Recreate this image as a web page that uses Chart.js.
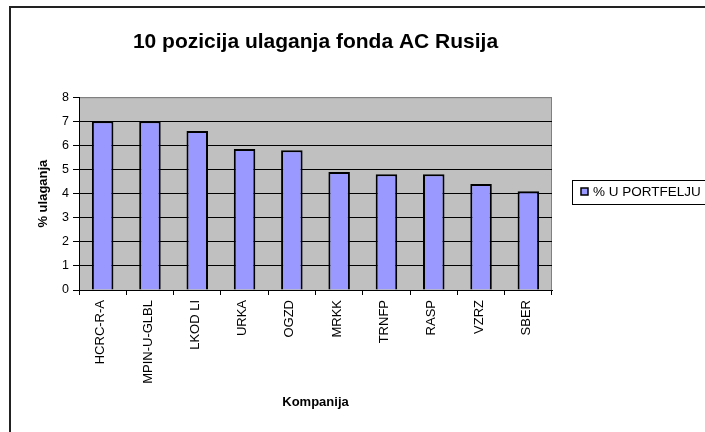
<!DOCTYPE html>
<html lang="hr">
<head>
<meta charset="utf-8">
<title>10 pozicija ulaganja fonda AC Rusija</title>
<script src="https://cdn.jsdelivr.net/npm/chart.js@4.4.0/dist/chart.umd.min.js"></script>
<style>
  html, body { margin: 0; padding: 0; background: #fff; }
  #chart { display: block; }
</style>
</head>
<body>
<canvas id="chart" width="705" height="432"></canvas>
<script>
// data
const companies = ['HCRC-R-A', 'MPIN-U-GLBL', 'LKOD LI', 'URKA', 'OGZD', 'MRKK', 'TRNFP', 'RASP', 'VZRZ', 'SBER'];
const shares = [7.0, 7.0, 6.6, 5.85, 5.8, 4.9, 4.8, 4.8, 4.4, 4.1];
const seriesName = '% U PORTFELJU';
const yTicks = [0, 1, 2, 3, 4, 5, 6, 7, 8];

const FONT = "'Liberation Sans', Arial, sans-serif";
Chart.defaults.font.family = FONT;
Chart.defaults.color = '#000';

// grey plot area + outer frame
const plotBg = {
    id: 'plotBg',
    beforeDraw(chart) {
        const ctx = chart.ctx, a = chart.chartArea;
        ctx.save();
        ctx.fillStyle = '#c0c0c0';
        ctx.fillRect(a.left, a.top, a.right - a.left, a.bottom - a.top);
        ctx.strokeStyle = '#808080';
        ctx.lineWidth = 1;
        ctx.beginPath();
        ctx.moveTo(a.left, a.top + 0.5);
        ctx.lineTo(a.right - 0.5, a.top + 0.5);
        ctx.lineTo(a.right - 0.5, a.bottom);
        ctx.stroke();
        // chart frame (only left and top are inside the picture)
        ctx.strokeStyle = '#222';
        ctx.lineWidth = 2;
        ctx.beginPath();
        ctx.moveTo(10, chart.height);
        ctx.lineTo(10, 7);
        ctx.lineTo(chart.width, 7);
        ctx.stroke();
        ctx.restore();
    }
};

// excel style legend box on the right
const boxLegend = {
    id: 'boxLegend',
    afterDraw(chart) {
        const ctx = chart.ctx;
        const ds = chart.data.datasets[0];
        ctx.save();
        ctx.strokeStyle = '#000';
        ctx.lineWidth = 1;
        ctx.strokeRect(572.5, 180.5, 200, 24);
        ctx.fillStyle = ds.backgroundColor;
        ctx.fillRect(581, 188, 7, 7);
        ctx.lineWidth = 1.5;
        ctx.strokeRect(581, 188, 7, 7);
        ctx.fillStyle = '#000';
        ctx.font = '13.5px ' + FONT;
        ctx.textBaseline = 'middle';
        ctx.fillText(ds.label, 593, 192.5);
        ctx.restore();
    }
};

new Chart(document.getElementById('chart'), {
    type: 'bar',
    data: {
        labels: companies,
        datasets: [{
            label: seriesName,
            data: shares,
            backgroundColor: '#9999ff',
            borderColor: '#000',
            borderWidth: 2,
            barPercentage: 0.455,
            categoryPercentage: 1
        }]
    },
    options: {
        responsive: false,
        animation: false,
        layout: { padding: { left: 10, right: 153, top: 0, bottom: 0 } },
        plugins: {
            legend: { display: false },
            tooltip: { enabled: false },
            title: {
                display: true,
                text: '10 pozicija ulaganja fonda AC Rusija',
                fullSize: false,
                color: '#000',
                font: { size: 21, weight: 'bold', family: FONT },
                padding: { top: 30, bottom: 42 }
            }
        },
        scales: {
            x: {
                afterFit(scale) { scale.height = 142; },
                grid: {
                    offset: true,
                    drawOnChartArea: false,
                    drawTicks: true,
                    tickLength: 5,
                    color: '#000'
                },
                border: { color: '#000', width: 1 },
                ticks: {
                    minRotation: 90,
                    maxRotation: 90,
                    autoSkip: false,
                    padding: 5,
                    labelOffset: -2,
                    color: '#000',
                    font: { size: 13 }
                },
                title: {
                    display: true,
                    text: 'Kompanija',
                    color: '#000',
                    font: { size: 13, weight: 'bold' },
                    padding: { top: 0, bottom: 22 }
                }
            },
            y: {
                min: 0,
                max: 8,
                afterFit(scale) { scale.width = 69; },
                afterBuildTicks(scale) { scale.ticks = yTicks.map(v => ({ value: v })); },
                grid: {
                    color: ctx => ctx.tick.value === 8 ? '#808080' : (ctx.tick.value === 0 ? 'rgba(0,0,0,0)' : '#000'),
                    tickColor: '#000',
                    tickLength: 6,
                    lineWidth: 1
                },
                border: { color: '#000', width: 1 },
                ticks: {
                    padding: 4,
                    color: '#000',
                    font: { size: 12.5 }
                },
                title: {
                    display: true,
                    text: '% ulaganja',
                    color: '#000',
                    font: { size: 13, weight: 'bold' },
                    padding: { top: 26, bottom: 0 }
                }
            }
        }
    },
    plugins: [plotBg, boxLegend]
});
</script>
</body>
</html>
